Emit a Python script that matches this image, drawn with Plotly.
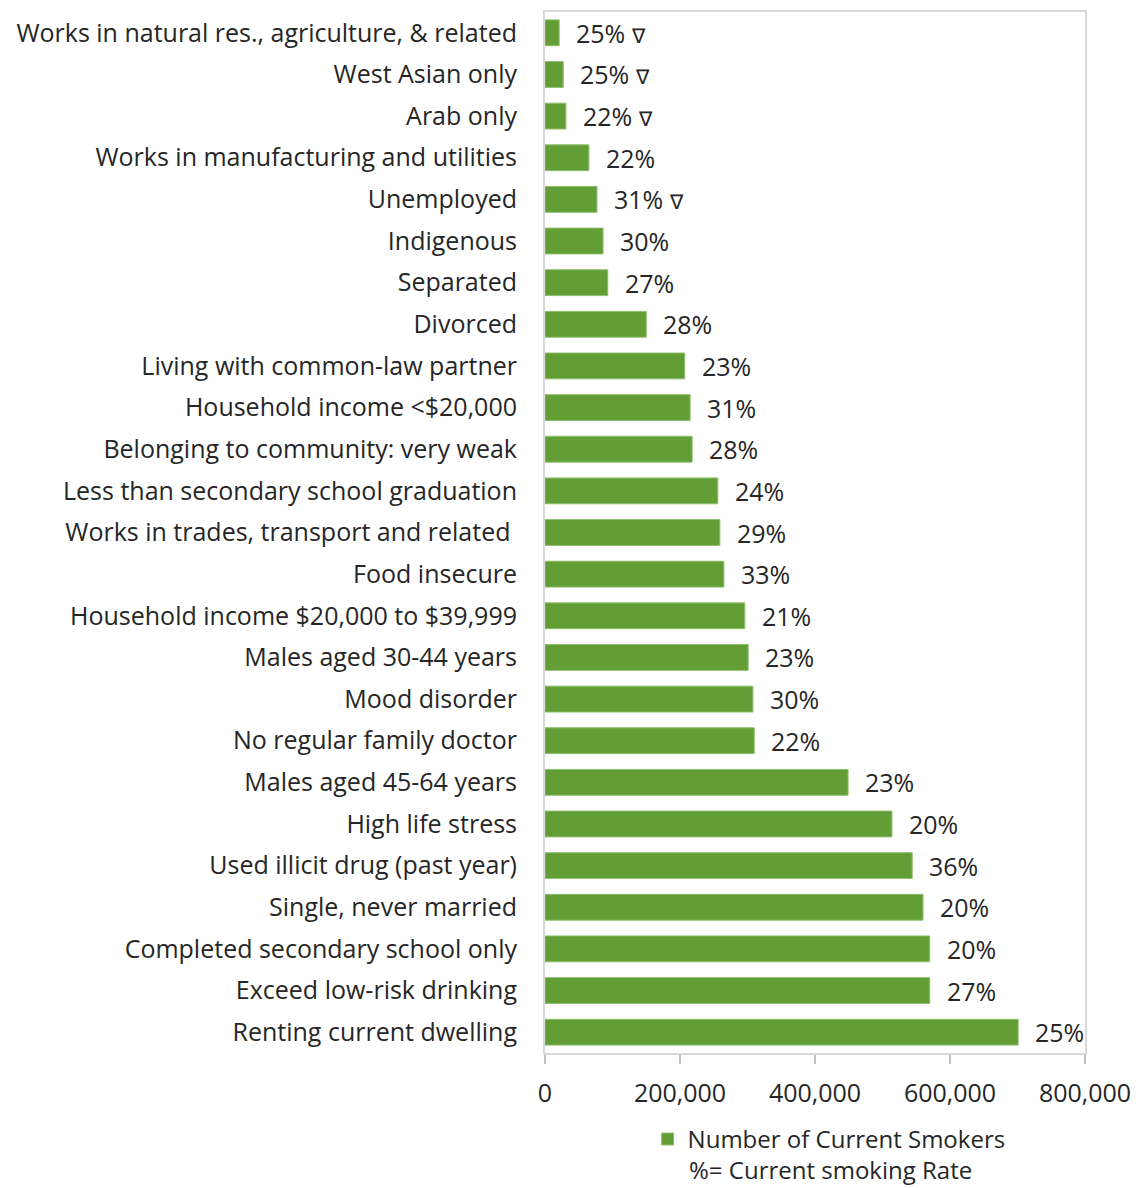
import plotly.graph_objects as go

# Population groups, listed top to bottom
categories = [
    "Works in natural res., agriculture, & related",
    "West Asian only",
    "Arab only",
    "Works in manufacturing and utilities",
    "Unemployed",
    "Indigenous",
    "Separated",
    "Divorced",
    "Living with common-law partner",
    "Household income <$20,000",
    "Belonging to community: very weak",
    "Less than secondary school graduation",
    "Works in trades, transport and related ",
    "Food insecure",
    "Household income $20,000 to $39,999",
    "Males aged 30-44 years",
    "Mood disorder",
    "No regular family doctor",
    "Males aged 45-64 years",
    "High life stress",
    "Used illicit drug (past year)",
    "Single, never married",
    "Completed secondary school only",
    "Exceed low-risk drinking",
    "Renting current dwelling",
]

# Number of current smokers in each group
smokers = [
    21000, 27000, 31000, 65000, 77000, 86000, 93000, 150000, 207000, 215000,
    218000, 256000, 259000, 265000, 296000, 301000, 308000, 310000, 449000,
    514000, 544000, 560000, 570000, 570000, 701000,
]

# Current smoking rate (%) in each group
rates = [25, 25, 22, 22, 31, 30, 27, 28, 23, 31, 28, 24, 29, 33, 21, 23, 30,
         22, 23, 20, 36, 20, 20, 27, 25]

# Groups whose estimate carries a caution flag
flagged = [True, True, True, False, True] + [False] * 20

x_ticks = [0, 200000, 400000, 600000, 800000]
x_tick_text = ["0", "200,000", "400,000", "600,000", "800,000"]

GREEN = "#629D35"
TEXT = "#262626"
FONT = "Open Sans"
SIZE = 25

fig = go.Figure()
fig.add_trace(go.Bar(
    x=smokers,
    y=categories,
    orientation="h",
    name="Number of Current Smokers",
    marker=dict(color=GREEN, line=dict(color="#8DBF6A", width=1)),
    hoverinfo="x+y",
))

for cat, val, rate, flag in zip(categories, smokers, rates, flagged):
    fig.add_annotation(
        x=val, y=cat, xref="x", yref="y",
        text=f"{rate}%" + (" <span style='font-size:20px'>\u2207</span>" if flag else ""),
        showarrow=False, xanchor="left", yanchor="middle",
        xshift=15, font=dict(family=FONT, size=SIZE, color=TEXT),
    )

fig.add_annotation(
    x=0.528, y=-0.112, xref="paper", yref="paper",
    text="%= Current smoking Rate", showarrow=False,
    xanchor="center", yanchor="middle",
    font=dict(family=FONT, size=24, color=TEXT),
)

fig.update_layout(
    width=1136, height=1188,
    margin=dict(l=545, r=51, t=12, b=135),
    paper_bgcolor="white", plot_bgcolor="white",
    bargap=0.38,
    font=dict(family=FONT, size=SIZE, color=TEXT),
    showlegend=True,
    legend=dict(
        orientation="h", x=0.19, y=-0.083, xanchor="left", yanchor="middle",
        font=dict(family=FONT, size=24, color=TEXT),
        itemwidth=30,
    ),
    xaxis=dict(
        range=[0, 800000], tickvals=x_ticks, ticktext=x_tick_text,
        automargin=False,
        showgrid=False, zeroline=False,
        showline=True, linecolor="#D9D9D9", linewidth=2, mirror=True,
        ticks="outside", ticklen=9, tickcolor="#BFBFBF", tickwidth=2,
        ticklabelstandoff=8,
        tickfont=dict(family=FONT, size=SIZE, color=TEXT),
    ),
    yaxis=dict(
        categoryorder="array", categoryarray=categories,
        autorange="reversed", automargin=False,
        showgrid=False, zeroline=False,
        showline=True, linecolor="#D9D9D9", linewidth=2, mirror=True,
        ticks="", ticklabelstandoff=21,
        tickfont=dict(family=FONT, size=SIZE, color=TEXT),
    ),
)

fig.write_html("out.html")
